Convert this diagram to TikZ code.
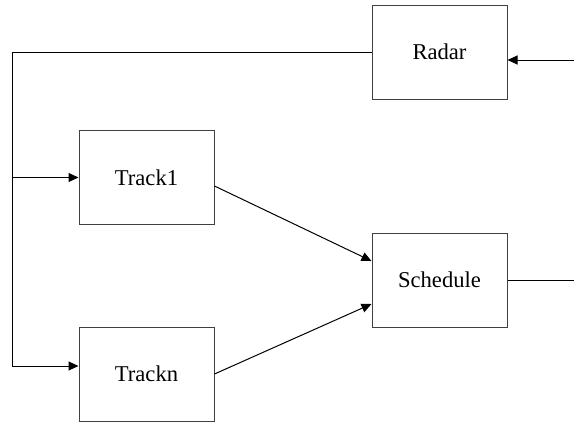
\documentclass[tikz,border=0pt]{standalone}
\usepackage{fontspec}
\setmainfont{Liberation Serif}
\usetikzlibrary{arrows.meta, calc}
\begin{document}
\begin{tikzpicture}[x=0.5pt, y=-0.5pt, line width=0.5pt,
  blok/.style={draw=black!75, minimum width=67.5pt, minimum height=47pt, inner sep=0pt, font=\fontsize{11.3}{13}\selectfont},
  pijl/.style={-{Triangle[length=5pt, width=4.5pt]}}]
\useasboundingbox (0,0) rectangle (574,423);
\node[blok] (radar) at (439.5,52) {Radar};
\node[blok] (track1) at (146.5,177.5) {Track1};
\node[blok] (trackn) at (146.5,374) {Trackn};
\node[blok] (schedule) at (439.5,280) {Schedule};
\coordinate (in) at (574,60);
\coordinate (out) at (574,280);
\coordinate (bus) at (12,52);
\coordinate (tnin) at ($(trackn.west)+(0,-8)$);
% radar naar de tracks
\draw[pijl] (in) -- (in -| radar.east);
\draw (radar.west) -- (bus) -- (bus |- tnin);
\draw[pijl] (bus |- track1.west) -- (track1.west);
\draw[pijl] (bus |- tnin) -- (tnin);
% tracks naar schedule
\draw[pijl] ($(track1.east)+(0,8.5)$) -- ($(schedule.west)+(0,-19)$);
\draw[pijl] (trackn.east) -- ($(schedule.west)+(0,24)$);
\draw (schedule.east) -- (out);
\end{tikzpicture}
\end{document}
